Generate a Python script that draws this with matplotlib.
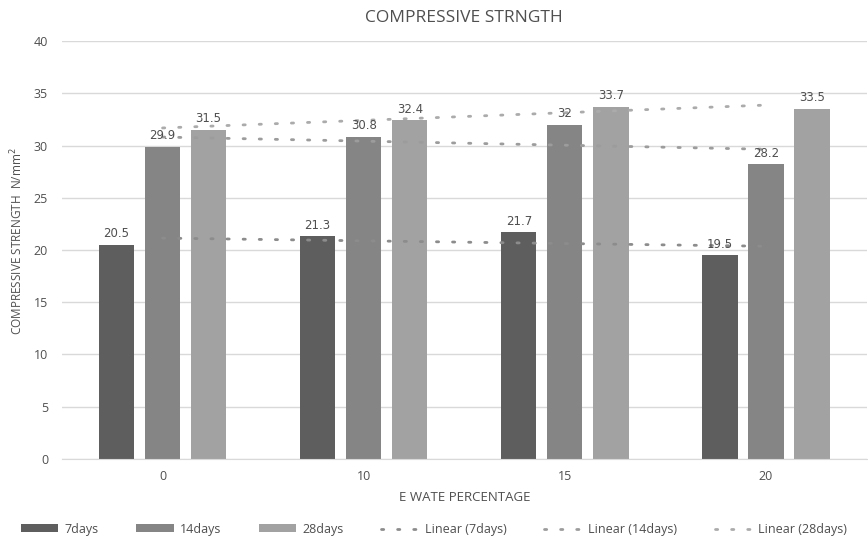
import numpy as np
import matplotlib
matplotlib.use("Agg")
import matplotlib.pyplot as plt
from matplotlib.patches import Patch
from matplotlib.lines import Line2D

categories = ["0", "10", "15", "20"]
days7 = [20.5, 21.3, 21.7, 19.5]
days14 = [29.9, 30.8, 32.0, 28.2]
days28 = [31.5, 32.4, 33.7, 33.5]
series_names = ["7days", "14days", "28days"]
y_ticks = [0, 5, 10, 15, 20, 25, 30, 35, 40]

colors = ["#5e5e5e", "#858585", "#a2a2a2"]
trend_colors = ["#8c8c8c", "#9c9c9c", "#ababab"]
text_color = "#4f4f4f"

plt.rcParams["font.family"] = ["Open Sans", "DejaVu Sans"]

fig = plt.figure(figsize=(8.68, 5.47), dpi=100)
ax = fig.add_axes([0.0714, 0.1609, 0.927, 0.7641])

x = np.arange(len(categories))
width = 0.175
step = 0.229
series = [days7, days14, days28]

for i, (vals, c) in enumerate(zip(series, colors)):
    pos = x + (i - 1) * step
    ax.bar(pos, vals, width=width, color=c, zorder=2)
    for p, v in zip(pos, vals):
        ax.text(p, v + 0.45, f"{v:g}", ha="center", va="bottom",
                fontsize=8.5, color=text_color, family="DejaVu Sans", zorder=4)

# Linear trendlines fitted over category index
dot_style = (0, (0.8, 5))
for vals, tc in zip(series, trend_colors):
    k, b = np.polyfit(x, vals, 1)
    ax.plot(x, k * x + b, color=tc, lw=2, linestyle=dot_style,
            dash_capstyle="round", zorder=3)

ax.set_xlim(-0.5, 3.5)
ax.set_ylim(0, 40)
ax.set_yticks(y_ticks)
ax.set_xticks(x)
ax.set_xticklabels(categories)
ax.yaxis.grid(True, color="#d9d9d9", lw=1, zorder=0)
ax.set_axisbelow(True)
for s in ["top", "right", "left"]:
    ax.spines[s].set_visible(False)
ax.spines["bottom"].set_color("#d9d9d9")
ax.tick_params(axis="both", length=0, labelsize=9, colors=text_color, pad=10)
ax.tick_params(axis="x", pad=8)

ax.set_title("COMPRESSIVE STRNGTH", fontsize=12.5, color=text_color, pad=14)
ax.set_xlabel("E WATE PERCENTAGE", fontsize=9.5, color=text_color, labelpad=6)
ax.set_ylabel("COMPRESSIVE STRENGTH  N/mm$^2$", fontsize=8.5, color=text_color)
ax.yaxis.set_label_coords(-0.046, 0.52)

handles = [Patch(facecolor=c, edgecolor="none") for c in colors]
handles += [Line2D([0], [0], color=tc, lw=2, linestyle=dot_style,
                   dash_capstyle="round") for tc in trend_colors]
labels = series_names + [f"Linear ({n})" for n in series_names]
fig.legend(handles, labels, loc="lower center", ncol=6, frameon=False,
           fontsize=9, labelcolor=text_color, bbox_to_anchor=(0.5, 0.0),
           handlelength=3.0, handleheight=0.6, columnspacing=3.0,
           handletextpad=0.5)

fig.savefig("out.png", dpi=100)
